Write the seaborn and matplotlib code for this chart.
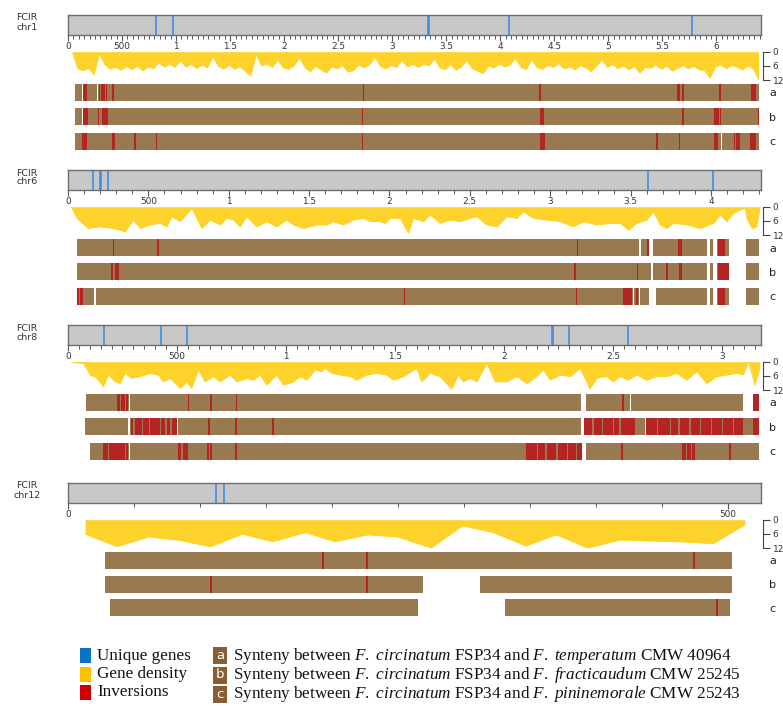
import matplotlib
matplotlib.use("Agg")
import matplotlib.pyplot as plt
from matplotlib.patches import Rectangle
from matplotlib.ticker import FixedLocator, MultipleLocator
import seaborn as sns

# ---------------------------------------------------------------- data (kb)
chrom_names = ["chr1", "chr6", "chr8", "chr12"]
chrom_length_kb = [6410, 4310, 3178, 525]
minor_tick_kb = [50, 100, 50, 50]

# unique genes on the FCIR ideograms
chr1_unique_kb = [815, 969, 3333, 3340, 4077, 5775]
chr6_unique_kb = [157, 200, 206, 247, 3611, 4012]
chr8_unique_kb = [166, 427, 544, 2219, 2224, 2298, 2570]
chr12_unique_kb = [112, 118]

# gene density (genes per window)
chr1_density_start_kb = 40
chr1_density_bin_kb = 50
chr1_density = [
    0.5, 7.2, 8.0, 7.0, 9.8, 1.0, 5.5, 7.4, 6.6, 7.8,
    6.2, 7.6, 6.0, 8.1, 6.4, 7.2, 4.6, 6.5, 5.2, 6.6,
    3.8, 6.4, 5.4, 7.1, 5.6, 6.8, 2.2, 6.1, 7.3, 5.6,
    7.4, 6.3, 8.2, 10.3, 1.2, 6.0, 5.2, 6.6, 3.4, 6.8,
    7.4, 6.0, 2.6, 6.6, 8.4, 6.2, 7.6, 9.0, 6.4, 7.2,
    5.8, 8.6, 8.0, 5.6, 6.8, 5.4, 2.4, 6.2, 7.2, 5.8,
    6.6, 3.6, 6.4, 5.4, 6.6,
    5.2, 6.0, 3.0, 6.8, 7.6, 5.4, 7.8, 6.4, 3.6, 7.2,
    8.2, 9.2, 6.0, 6.8, 5.2, 6.4, 5.6, 2.8, 6.6, 7.6,
    3.2, 6.8, 7.4, 5.6, 6.6, 5.0, 7.2, 6.4, 7.6, 5.8,
    6.8, 8.4, 6.0, 3.4, 6.6, 5.4, 7.2, 6.0, 7.6, 6.2,
    9.0, 6.6, 7.0, 5.6, 7.4, 6.0, 8.2, 7.0, 5.8, 7.2,
    6.2, 7.6, 8.0, 11.2, 6.4, 5.6, 7.2, 5.8, 6.6, 7.8,
    6.0, 7.2, 11.8,
]

chr6_density_kb = [
    19, 54, 126, 199, 282, 355, 406, 448, 510, 572, 614, 645, 697, 770, 832,
    884, 946, 987, 1029, 1070, 1112, 1174, 1236, 1299, 1361, 1402, 1464, 1548,
    1610, 1651, 1713, 1775, 1838, 1879, 1941, 1973, 2004, 2066, 2118, 2149,
    2211, 2253, 2315, 2377, 2439, 2502, 2543, 2605, 2668, 2730, 2792, 2833,
    2896, 2979, 3062, 3144, 3207, 3290, 3373, 3435, 3487, 3539, 3601, 3642,
    3684, 3725, 3767, 3850, 3933, 4016, 4057, 4099, 4140, 4182, 4213, 4223,
    4254, 4285, 4306,
]
chr6_density = [
    0.0, 4.9, 9.2, 8.5, 9.2, 10.6, 5.6, 9.2, 7.7, 7.0, 8.5, 4.2, 6.3, 0.7, 9.2,
    5.6, 7.7, 4.9, 5.6, 8.5, 4.2, 8.5, 6.3, 8.5, 5.6, 7.7, 9.2, 7.7,
    7.7, 6.3, 7.7, 5.6, 4.9, 6.3, 6.3, 7.0, 4.9, 4.9, 11.3, 4.9,
    6.3, 3.5, 7.0, 5.6, 6.3, 4.9, 4.2, 7.7, 8.5, 4.2, 4.9, 2.1,
    4.9, 5.6, 6.3, 8.5, 6.3, 7.7, 7.0, 7.0, 9.9, 7.0, 5.6, 2.1,
    7.7, 9.2, 7.0, 7.7, 9.2, 7.0, 3.5, 6.3, 2.8, 1.4, 0.7, 4.9,
    9.2, 8.5, 0.0,
]

chr8_density_kb = [
    14, 70, 101, 132, 162, 185, 216, 239, 261, 292, 330, 376, 414, 437, 468,
    514, 544, 567, 598, 628, 667, 697, 743, 774, 820, 850, 881, 911, 957, 988,
    1034, 1064, 1095, 1133, 1164, 1179, 1210, 1248, 1294, 1324, 1370, 1416,
    1462, 1492, 1538, 1599, 1622, 1661, 1706, 1760, 1790, 1813, 1844, 1875,
    1921, 1959, 2012, 2058, 2104, 2150, 2180, 2211, 2257, 2303, 2349, 2394,
    2425, 2471, 2501, 2532, 2570, 2609, 2654, 2700, 2746, 2792, 2838, 2884,
    2930, 2976, 3022, 3067, 3098, 3121, 3151, 3174,
]
chr8_density = [
    0.2, 0.7, 5.6, 7.0, 10.6, 5.6, 8.5, 9.2, 4.9, 7.0, 6.3, 4.9, 5.6, 8.5, 7.0,
    11.3, 8.5, 11.3, 3.5, 8.5, 6.3, 8.5, 5.6, 8.5, 7.0, 7.8, 5.6, 9.9, 5.6, 9.9,
    8.5, 6.3, 7.8, 3.5, 4.2, 2.8, 4.9, 5.6, 6.3, 7.8, 5.6, 4.9,
    5.6, 7.8, 6.3, 2.8, 8.5, 4.9, 6.3, 11.6, 5.6, 8.5, 7.0, 8.5,
    0.7, 8.5, 8.5, 6.3, 9.2, 6.3, 3.5, 7.8, 5.6, 6.3, 2.8, 11.6,
    7.0, 6.3, 8.5, 6.3, 7.8, 5.6, 7.8, 6.3, 6.3, 4.9, 7.8, 4.2,
    9.2, 6.3, 5.6, 4.9, 5.6, 0.0, 9.9, 2.8,
]

chr12_density_kb = [
    13, 37, 61, 83, 108, 132, 155, 180, 202, 227, 250, 275, 299, 322, 347,
    370, 394, 418, 441, 466, 489, 513,
]
chr12_density = [
    6.1, 11.4, 7.3, 8.6, 11.4, 6.1, 9.3, 5.4, 9.3, 6.4, 7.3, 12.0, 2.6, 5.4,
    11.1, 6.4, 12.0, 8.6, 9.0, 9.4, 10.1, 2.1,
]

# synteny blocks (start, end) and inversions (start, end) per comparison
chr1_a_blocks = [(65, 128), (137, 267), (276, 6398)]
chr1_a_inv = [(142, 179), (288, 296), (302, 340), (348, 362), (404, 426),
              (2728, 2742), (4359, 4373), (5640, 5667), (5686, 5700),
              (6025, 6039), (6324, 6370)]
chr1_b_blocks = [(65, 128), (137, 6398)]
chr1_b_inv = [(142, 181), (276, 289), (312, 373), (2719, 2733), (4370, 4407),
              (5682, 5696), (5981, 6021), (6031, 6044), (6386, 6398)]
chr1_c_blocks = [(65, 5964), (5973, 6039), (6048, 6398)]
chr1_c_inv = [(127, 179), (404, 435), (614, 628), (810, 820), (2717, 2731),
              (4370, 4413), (5444, 5458), (5650, 5664), (5981, 6018),
              (6160, 6175), (6185, 6216), (6315, 6370)]

chr6_a_blocks = [(54, 3555), (3563, 3617), (3642, 3974), (3995, 4016),
                 (4040, 4115), (4217, 4300)]
chr6_a_inv = [(278, 288), (553, 564), (3164, 3174), (3601, 3613),
              (3798, 3819), (4047, 4060), (4065, 4088)]
chr6_b_blocks = [(54, 3626), (3642, 3974), (3995, 4016), (4040, 4115),
                 (4217, 4300)]
chr6_b_inv = [(266, 280), (292, 317), (3149, 3161), (3538, 3548),
              (3720, 3731), (3800, 3818), (4047, 4115)]
chr6_c_blocks = [(54, 164), (172, 3514), (3522, 3551), (3559, 3617),
                 (3657, 3974), (3995, 4016), (4040, 4115), (4217, 4300)]
chr6_c_inv = [(58, 70), (74, 95), (2088, 2098), (3160, 3170), (3455, 3470),
              (3474, 3500), (3503, 3508), (3534, 3544), (4047, 4088)]

chr8_a_blocks = [(83, 278), (283, 2353), (2376, 2579), (2584, 3095),
                 (3144, 3171)]
chr8_a_inv = [(226, 238), (244, 262), (266, 277), (549, 557), (651, 659),
              (769, 777), (2540, 2550), (3144, 3171)]
chr8_b_blocks = [(78, 277), (284, 501), (506, 2353), (2368, 2648),
                 (2652, 3171)]
chr8_b_inv = [(287, 300), (306, 340), (346, 370), (376, 420), (428, 445),
              (452, 470), (476, 499), (644, 652), (767, 775), (936, 943),
              (2368, 2405), (2412, 2450), (2456, 2500), (2506, 2530),
              (2536, 2601), (2654, 2700), (2706, 2760), (2766, 2800),
              (2806, 2850), (2856, 2900), (2906, 2950), (2956, 3000),
              (3006, 3050), (3056, 3098), (3141, 3171)]
chr8_c_blocks = [(101, 279), (284, 1498), (1502, 2356), (2375, 3171)]
chr8_c_inv = [(159, 185), (190, 260), (265, 277), (503, 520), (526, 552),
              (639, 646), (651, 659), (768, 776), (2101, 2150), (2156, 2190),
              (2196, 2240), (2246, 2290), (2296, 2330), (2336, 2356),
              (2539, 2547), (2815, 2835), (2840, 2860), (2864, 2876),
              (3033, 3041)]

chr12_a_blocks = [(28, 503)]
chr12_a_inv = [(192.5, 194), (226, 227.5), (474, 475.5)]
chr12_b_blocks = [(28, 269), (312, 503)]
chr12_b_inv = [(107.7, 109.2), (226, 227.5)]
chr12_c_blocks = [(32, 265), (331, 502)]
chr12_c_inv = [(491.5, 493)]

track_labels = ["a", "b", "c"]
legend_items = ["Unique genes", "Gene density", "Inversions"]
legend_species = ["temperatum CMW 40964", "fracticaudum CMW 25245",
                  "pininemorale CMW 25243"]

# ---------------------------------------------------------------- styling
sns.set_theme(style="white")
plt.rcParams["font.family"] = ["DejaVu Sans"]
plt.rcParams["mathtext.fontset"] = "custom"
plt.rcParams["mathtext.rm"] = "Liberation Serif"
plt.rcParams["mathtext.it"] = "Liberation Serif:italic"

GRAY = "#c8c8c8"
EDGE = "#6e6e6e"
BLUE = "#3d8fe0"
YELLOW = "#fcd22b"
BROWN = "#997950"
RED = "#b42424"
TEXT = "#333333"

W, H = 783, 706
fig = plt.figure(figsize=(W / 100, H / 100), dpi=100)


def rect(x0, y0, x1, y1):
    return [x0 / W, 1 - y1 / H, (x1 - x0) / W, (y1 - y0) / H]


X0, X1 = 68, 760.7
panel_top = [15, 170, 325, 483]
track_gap = [24.3, 24.3, 24.3, 23.5]

unique = [chr1_unique_kb, chr6_unique_kb, chr8_unique_kb, chr12_unique_kb]
chr1_density_kb = [chr1_density_start_kb + i * chr1_density_bin_kb
                   for i in range(len(chr1_density))]
dens_x = [chr1_density_kb, chr6_density_kb, chr8_density_kb, chr12_density_kb]
dens_y = [chr1_density, chr6_density, chr8_density, chr12_density]
blocks = [[chr1_a_blocks, chr1_b_blocks, chr1_c_blocks],
          [chr6_a_blocks, chr6_b_blocks, chr6_c_blocks],
          [chr8_a_blocks, chr8_b_blocks, chr8_c_blocks],
          [chr12_a_blocks, chr12_b_blocks, chr12_c_blocks]]
inversions = [[chr1_a_inv, chr1_b_inv, chr1_c_inv],
              [chr6_a_inv, chr6_b_inv, chr6_c_inv],
              [chr8_a_inv, chr8_b_inv, chr8_c_inv],
              [chr12_a_inv, chr12_b_inv, chr12_c_inv]]


def kb_label(v):
    if v == 0:
        return "0"
    if v < 1000:
        return f"{v:g}"
    return f"{v / 1000:g}"


for i, name in enumerate(chrom_names):
    T = panel_top[i]
    length = chrom_length_kb[i]

    fig.text(27 / W, 1 - (T - 1.5) / H, f"FCIR\n{name}", ha="center",
             va="top", fontsize=6.8, color=TEXT, linespacing=1.0)

    # ideogram
    ax = fig.add_axes(rect(X0, T, X1, T + 20))
    ax.set_facecolor(GRAY)
    ax.set_xlim(0, length)
    ax.set_ylim(0, 1)
    ax.vlines(unique[i], 0, 1, color=BLUE, lw=1.2)
    for s in ax.spines.values():
        s.set_color(EDGE)
        s.set_linewidth(1.0)
    ax.set_yticks([])
    majors = [v for v in range(0, length + 1, 500)]
    ax.xaxis.set_major_locator(FixedLocator(majors))
    ax.xaxis.set_minor_locator(MultipleLocator(minor_tick_kb[i]))
    ax.set_xticklabels([kb_label(v) for v in majors])
    ax.tick_params(axis="x", which="major", bottom=True, length=4, width=0.8,
                   color="#555555", pad=1.2, labelsize=6.4, labelcolor=TEXT)
    ax.tick_params(axis="x", which="minor", bottom=True, length=3, width=0.7,
                   color="#555555")

    # gene density, drawn downward from the top edge
    axd = fig.add_axes(rect(X0, T + 36.7, X1, T + 65))
    axd.fill_between(dens_x[i], 0, dens_y[i], color=YELLOW, lw=0)
    sns.lineplot(x=dens_x[i], y=dens_y[i], ax=axd, color=YELLOW, lw=0.5)
    axd.set_xlim(0, length)
    axd.set_ylim(12, 0)
    axd.set_facecolor("none")
    for side in ["left", "top", "bottom"]:
        axd.spines[side].set_visible(False)
    axd.spines["right"].set_position(("outward", 2))
    axd.spines["right"].set_color("#444444")
    axd.spines["right"].set_linewidth(0.8)
    axd.set_xticks([])
    axd.yaxis.tick_right()
    axd.set_yticks([0, 6, 12])
    axd.set_yticklabels(["0", "6", "12"])
    axd.tick_params(axis="y", right=True, length=5, width=0.8, color="#444444",
                    pad=1.5, labelsize=6.5, labelcolor=TEXT)

    # synteny tracks
    gap = track_gap[i]
    top_px, bot_px = T + 68, T + 142
    ca = T + 77.5
    axb = fig.add_axes(rect(X0, top_px, X1, bot_px))
    axb.set_facecolor("none")
    for k in range(3):
        bl = blocks[i][k]
        axb.barh([k] * len(bl), [e - s for s, e in bl], left=[s for s, e in bl],
                 height=17 / gap, color=BROWN, lw=0)
        inv = inversions[i][k]
        axb.barh([k] * len(inv), [e - s for s, e in inv],
                 left=[s for s, e in inv], height=17 / gap, color=RED, lw=0)
    axb.set_xlim(0, length)
    axb.set_ylim(2 + (bot_px - (ca + 2 * gap)) / gap, -(ca - top_px) / gap)
    sns.despine(ax=axb, left=True, bottom=True)
    axb.set_xticks([])
    axb.yaxis.tick_right()
    axb.set_yticks([0, 1, 2])
    axb.set_yticklabels(track_labels)
    axb.tick_params(axis="y", length=0, pad=6, labelsize=8, labelcolor="#222222")

# ---------------------------------------------------------------- legend
axl = fig.add_axes(rect(0, 630, W, H))
axl.set_xlim(0, W)
axl.set_ylim(H, 630)
axl.axis("off")
serif = ["Liberation Serif"]
leg_colors = ["#0a72c4", "#ffc000", "#d00000"]
for j, (lab, col) in enumerate(zip(legend_items, leg_colors)):
    yc = 655.5 + 18.5 * j
    axl.add_patch(Rectangle((80, yc - 7.5), 11, 15, facecolor=col, lw=0))
    axl.text(97, yc, lab, ha="left", va="center", fontsize=12.3,
             family=serif, color="#111111")
for j, (lab, sp) in enumerate(zip(track_labels, legend_species)):
    yc = 655.5 + 19.5 * j
    axl.add_patch(Rectangle((213, yc - 8.5), 14, 17, facecolor="#8a5e35",
                            lw=0))
    axl.text(220, yc, lab, ha="center", va="center", fontsize=9.5,
             color="white")
    genus, rest = sp.split(" ", 1)
    txt = (r"$\mathrm{Synteny\ between}\ \mathit{F.\ circinatum}\ "
           r"\mathrm{FSP34\ and}\ \mathit{F.\ " + genus + r"}\ \mathrm{"
           + rest.replace(" ", r"\ ") + r"}$")
    axl.text(233, yc, txt, ha="left", va="center", fontsize=12.3,
             color="#111111")

fig.savefig("out.png", dpi=100)
